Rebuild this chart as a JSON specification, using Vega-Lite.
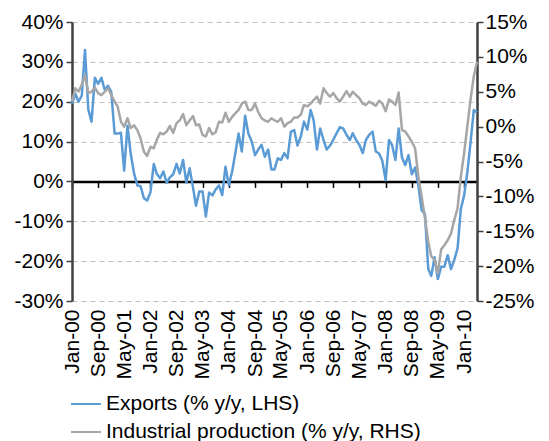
{
  "$schema": "https://vega.github.io/schema/vega-lite/v6.json",
  "width": 405,
  "height": 279,
  "autosize": {"type": "none"},
  "padding": {"left": 72, "top": 22, "right": 72, "bottom": 140},
  "background": "white",
  "config": {
    "view": {"stroke": null},
    "font": "Liberation Sans",
    "axis": {"labelFont": "Liberation Sans", "labelFontSize": 21, "labelColor": "#000000", "title": null, "labelOverlap": false, "labelFlush": false}
  },
  "data": {"values": [
    {"date":"2000-01-01","exports":19.5,"ip":3.6},
    {"date":"2000-02-01","exports":22,"ip":5.5},
    {"date":"2000-03-01","exports":20,"ip":5},
    {"date":"2000-04-01","exports":21.5,"ip":6},
    {"date":"2000-05-01","exports":33,"ip":7.4},
    {"date":"2000-06-01","exports":18,"ip":4.8},
    {"date":"2000-07-01","exports":15,"ip":5},
    {"date":"2000-08-01","exports":26,"ip":5.6},
    {"date":"2000-09-01","exports":24.5,"ip":4.8},
    {"date":"2000-10-01","exports":26,"ip":4.5},
    {"date":"2000-11-01","exports":23,"ip":5},
    {"date":"2000-12-01","exports":24,"ip":5.5},
    {"date":"2001-01-01","exports":22.5,"ip":4.5},
    {"date":"2001-02-01","exports":12,"ip":3.6},
    {"date":"2001-03-01","exports":12,"ip":2.9},
    {"date":"2001-04-01","exports":12.2,"ip":0.7},
    {"date":"2001-05-01","exports":2.7,"ip":0},
    {"date":"2001-06-01","exports":14,"ip":1.2},
    {"date":"2001-07-01","exports":7,"ip":-0.2},
    {"date":"2001-08-01","exports":2,"ip":0.2},
    {"date":"2001-09-01","exports":-1,"ip":-0.5},
    {"date":"2001-10-01","exports":-1.2,"ip":-1.7},
    {"date":"2001-11-01","exports":-4.2,"ip":-3.6},
    {"date":"2001-12-01","exports":-4.8,"ip":-4.2},
    {"date":"2002-01-01","exports":-2.7,"ip":-2.9},
    {"date":"2002-02-01","exports":4.4,"ip":-3.1},
    {"date":"2002-03-01","exports":1.9,"ip":-1.9},
    {"date":"2002-04-01","exports":0.8,"ip":-0.9},
    {"date":"2002-05-01","exports":2.5,"ip":-1.1},
    {"date":"2002-06-01","exports":-0.3,"ip":-0.7},
    {"date":"2002-07-01","exports":1,"ip":0.1},
    {"date":"2002-08-01","exports":1.8,"ip":-0.9},
    {"date":"2002-09-01","exports":4.4,"ip":0.5},
    {"date":"2002-10-01","exports":2,"ip":0.9},
    {"date":"2002-11-01","exports":5.4,"ip":1.8},
    {"date":"2002-12-01","exports":-0.3,"ip":0.2},
    {"date":"2003-01-01","exports":3.3,"ip":0.9},
    {"date":"2003-02-01","exports":-1.5,"ip":1.5},
    {"date":"2003-03-01","exports":-6.1,"ip":0.2},
    {"date":"2003-04-01","exports":-2.5,"ip":0.3},
    {"date":"2003-05-01","exports":-2.5,"ip":-1.2},
    {"date":"2003-06-01","exports":-8.8,"ip":-1.4},
    {"date":"2003-07-01","exports":-2.8,"ip":-0.2},
    {"date":"2003-08-01","exports":-3.5,"ip":-1.1},
    {"date":"2003-09-01","exports":-2,"ip":-0.8},
    {"date":"2003-10-01","exports":-1,"ip":0.7},
    {"date":"2003-11-01","exports":-3.4,"ip":0.6},
    {"date":"2003-12-01","exports":3.7,"ip":2},
    {"date":"2004-01-01","exports":-0.9,"ip":0.7},
    {"date":"2004-02-01","exports":2.5,"ip":1.4},
    {"date":"2004-03-01","exports":7,"ip":1.9},
    {"date":"2004-04-01","exports":12,"ip":2.4},
    {"date":"2004-05-01","exports":7.5,"ip":3.3},
    {"date":"2004-06-01","exports":16.5,"ip":3.6},
    {"date":"2004-07-01","exports":12,"ip":2.4},
    {"date":"2004-08-01","exports":10,"ip":2.4},
    {"date":"2004-09-01","exports":6.6,"ip":3.3},
    {"date":"2004-10-01","exports":8,"ip":2.1},
    {"date":"2004-11-01","exports":9.2,"ip":1.2},
    {"date":"2004-12-01","exports":6.2,"ip":0.9},
    {"date":"2005-01-01","exports":8,"ip":0.7},
    {"date":"2005-02-01","exports":3,"ip":1.2},
    {"date":"2005-03-01","exports":3,"ip":0.9},
    {"date":"2005-04-01","exports":5.8,"ip":0.7},
    {"date":"2005-05-01","exports":5.4,"ip":1.2},
    {"date":"2005-06-01","exports":7.1,"ip":0},
    {"date":"2005-07-01","exports":5.8,"ip":0.5},
    {"date":"2005-08-01","exports":12.5,"ip":0.7},
    {"date":"2005-09-01","exports":12.9,"ip":1.3},
    {"date":"2005-10-01","exports":9,"ip":1.3},
    {"date":"2005-11-01","exports":11.2,"ip":1.7},
    {"date":"2005-12-01","exports":15,"ip":3.1},
    {"date":"2006-01-01","exports":13,"ip":2.9},
    {"date":"2006-02-01","exports":17.9,"ip":3.3},
    {"date":"2006-03-01","exports":15.4,"ip":3.8},
    {"date":"2006-04-01","exports":8,"ip":4.3},
    {"date":"2006-05-01","exports":13.3,"ip":3.3},
    {"date":"2006-06-01","exports":10.4,"ip":5.5},
    {"date":"2006-07-01","exports":8,"ip":4.8},
    {"date":"2006-08-01","exports":9,"ip":4.3},
    {"date":"2006-09-01","exports":10.5,"ip":4.8},
    {"date":"2006-10-01","exports":12.1,"ip":4.1},
    {"date":"2006-11-01","exports":13.6,"ip":3.6},
    {"date":"2006-12-01","exports":13.3,"ip":4.3},
    {"date":"2007-01-01","exports":11.7,"ip":5.1},
    {"date":"2007-02-01","exports":10.4,"ip":4.3},
    {"date":"2007-03-01","exports":12.1,"ip":5},
    {"date":"2007-04-01","exports":10.4,"ip":4.5},
    {"date":"2007-05-01","exports":9.2,"ip":4.1},
    {"date":"2007-06-01","exports":7.1,"ip":3.3},
    {"date":"2007-07-01","exports":10.4,"ip":3.1},
    {"date":"2007-08-01","exports":11.7,"ip":3.6},
    {"date":"2007-09-01","exports":12.5,"ip":3.3},
    {"date":"2007-10-01","exports":7.5,"ip":3},
    {"date":"2007-11-01","exports":7,"ip":3.7},
    {"date":"2007-12-01","exports":5.2,"ip":3.3},
    {"date":"2008-01-01","exports":0.3,"ip":2.2},
    {"date":"2008-02-01","exports":10.4,"ip":3.9},
    {"date":"2008-03-01","exports":9.1,"ip":3.6},
    {"date":"2008-04-01","exports":5.4,"ip":3.1},
    {"date":"2008-05-01","exports":13.3,"ip":4.9},
    {"date":"2008-06-01","exports":6,"ip":-0.5},
    {"date":"2008-07-01","exports":4.1,"ip":-0.7},
    {"date":"2008-08-01","exports":6.6,"ip":-1.4},
    {"date":"2008-09-01","exports":1.8,"ip":-2.2},
    {"date":"2008-10-01","exports":3.5,"ip":-3.1},
    {"date":"2008-11-01","exports":-1,"ip":-7.2},
    {"date":"2008-12-01","exports":-7.2,"ip":-10},
    {"date":"2009-01-01","exports":-8.2,"ip":-13.1},
    {"date":"2009-02-01","exports":-22,"ip":-16.5},
    {"date":"2009-03-01","exports":-23.7,"ip":-18.6},
    {"date":"2009-04-01","exports":-19,"ip":-19.1},
    {"date":"2009-05-01","exports":-24.5,"ip":-21},
    {"date":"2009-06-01","exports":-21.4,"ip":-17.6},
    {"date":"2009-07-01","exports":-21.4,"ip":-17},
    {"date":"2009-08-01","exports":-18.5,"ip":-16.3},
    {"date":"2009-09-01","exports":-22,"ip":-15.3},
    {"date":"2009-10-01","exports":-19.7,"ip":-13.4},
    {"date":"2009-11-01","exports":-16.8,"ip":-11.7},
    {"date":"2009-12-01","exports":-7,"ip":-7.2},
    {"date":"2010-01-01","exports":-3.5,"ip":-3.8},
    {"date":"2010-02-01","exports":2.5,"ip":0.2},
    {"date":"2010-03-01","exports":9.5,"ip":3.8},
    {"date":"2010-04-01","exports":17.9,"ip":7.2},
    {"date":"2010-05-01","exports":17.4,"ip":9.3}
  ]},
  "layer": [
    {
      "mark": {"type": "line", "strokeWidth": 2.5, "strokeJoin": "round"},
      "encoding": {
        "x": {
          "field": "date", "type": "temporal",
          "scale": {"type": "utc", "nice": false, "domain": [{"year": 2000, "month": 1, "date": 1, "utc": true}, {"year": 2010, "month": 5, "date": 1, "utc": true}]},
          "axis": {
            "orient": "bottom", "labelExpr": "utcFormat(datum.value, '%b-%y')", "labelAngle": -90,
            "domain": false, "ticks": false, "grid": false, "labelPadding": 8,
            "values": [
              {"year": 2000, "month": 1, "date": 1, "utc": true},
              {"year": 2000, "month": 9, "date": 1, "utc": true},
              {"year": 2001, "month": 5, "date": 1, "utc": true},
              {"year": 2002, "month": 1, "date": 1, "utc": true},
              {"year": 2002, "month": 9, "date": 1, "utc": true},
              {"year": 2003, "month": 5, "date": 1, "utc": true},
              {"year": 2004, "month": 1, "date": 1, "utc": true},
              {"year": 2004, "month": 9, "date": 1, "utc": true},
              {"year": 2005, "month": 5, "date": 1, "utc": true},
              {"year": 2006, "month": 1, "date": 1, "utc": true},
              {"year": 2006, "month": 9, "date": 1, "utc": true},
              {"year": 2007, "month": 5, "date": 1, "utc": true},
              {"year": 2008, "month": 1, "date": 1, "utc": true},
              {"year": 2008, "month": 9, "date": 1, "utc": true},
              {"year": 2009, "month": 5, "date": 1, "utc": true},
              {"year": 2010, "month": 1, "date": 1, "utc": true}
            ]
          }
        },
        "y": {
          "field": "exports", "type": "quantitative",
          "scale": {"domain": [-30, 40], "nice": false, "zero": false},
          "axis": {
            "orient": "left", "values": [-30, -20, -10, 0, 10, 20, 30, 40],
            "labelExpr": "datum.value + '%'",
            "grid": true, "gridDash": [5, 4], "gridColor": "#bfbfbf", "gridWidth": 1,
            "domainColor": "#404040", "domainWidth": 2.5,
            "tickColor": "#404040", "tickSize": 6, "tickWidth": 1.5, "labelPadding": 3
          }
        },
        "color": {
          "datum": "Exports (% y/y, LHS)", "type": "nominal",
          "scale": {"domain": ["Exports (% y/y, LHS)", "Industrial production (% y/y, RHS)"], "range": ["#5b9bd5", "#a6a6a6"]},
          "legend": {
            "orient": "none", "legendX": -2, "legendY": 366, "title": null,
            "direction": "vertical", "symbolType": "stroke", "symbolSize": 900, "symbolStrokeWidth": 2,
            "labelFont": "Liberation Sans", "labelFontSize": 21, "labelColor": "#000000", "labelOffset": 4,
            "rowPadding": 2, "labelLimit": 500
          }
        }
      }
    },
    {
      "mark": {"type": "line", "strokeWidth": 2.5, "strokeJoin": "round"},
      "encoding": {
        "x": {
          "field": "date", "type": "temporal",
          "axis": {
            "orient": "bottom", "offset": -119.6, "labels": false, "grid": false,
            "domainColor": "#000000", "domainWidth": 2.5,
            "tickColor": "#000000", "tickSize": 6, "tickWidth": 1.5,
            "values": [
              {"year": 2000, "month": 1, "date": 1, "utc": true},
              {"year": 2000, "month": 9, "date": 1, "utc": true},
              {"year": 2001, "month": 5, "date": 1, "utc": true},
              {"year": 2002, "month": 1, "date": 1, "utc": true},
              {"year": 2002, "month": 9, "date": 1, "utc": true},
              {"year": 2003, "month": 5, "date": 1, "utc": true},
              {"year": 2004, "month": 1, "date": 1, "utc": true},
              {"year": 2004, "month": 9, "date": 1, "utc": true},
              {"year": 2005, "month": 5, "date": 1, "utc": true},
              {"year": 2006, "month": 1, "date": 1, "utc": true},
              {"year": 2006, "month": 9, "date": 1, "utc": true},
              {"year": 2007, "month": 5, "date": 1, "utc": true},
              {"year": 2008, "month": 1, "date": 1, "utc": true},
              {"year": 2008, "month": 9, "date": 1, "utc": true},
              {"year": 2009, "month": 5, "date": 1, "utc": true},
              {"year": 2010, "month": 1, "date": 1, "utc": true}
            ]
          }
        },
        "y": {
          "field": "ip", "type": "quantitative",
          "scale": {"domain": [-25, 15], "nice": false, "zero": false},
          "axis": {
            "orient": "right", "values": [-25, -20, -15, -10, -5, 0, 5, 10, 15],
            "labelExpr": "datum.value + '%'", "grid": false,
            "domainColor": "#404040", "domainWidth": 2.5,
            "tickColor": "#404040", "tickSize": 6, "tickWidth": 1.5, "labelPadding": 2
          }
        },
        "color": {"datum": "Industrial production (% y/y, RHS)", "type": "nominal"}
      }
    }
  ],
  "resolve": {"scale": {"y": "independent"}, "axis": {"x": "independent"}}
}
